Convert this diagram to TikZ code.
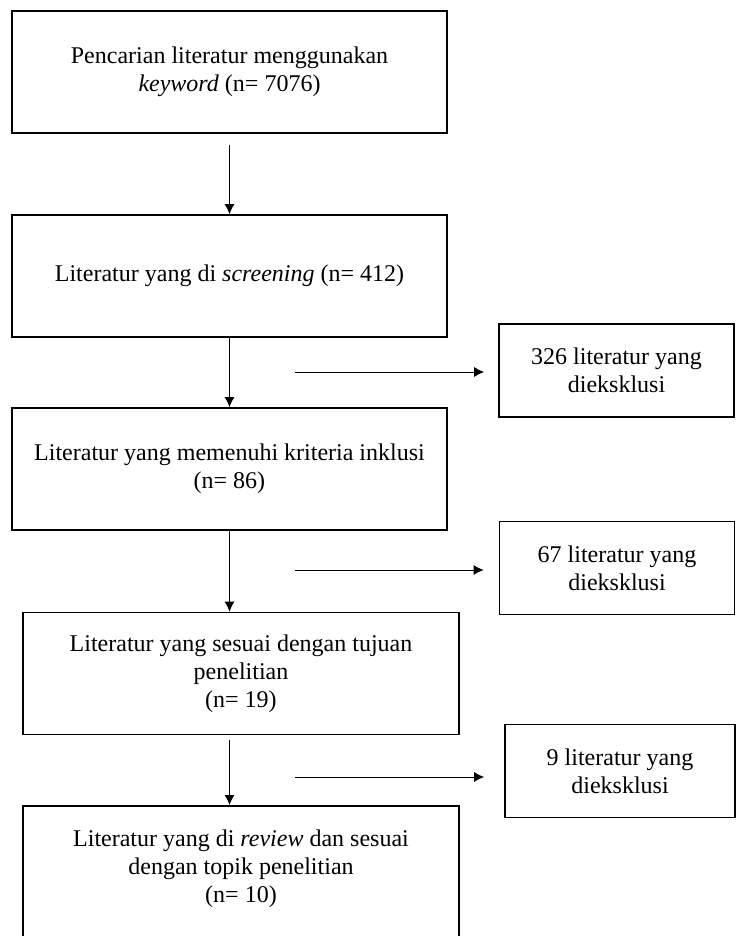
\documentclass[tikz,border=0pt]{standalone}
\usepackage{fontspec}
\setmainfont{Liberation Serif}
\usetikzlibrary{arrows.meta}
\tikzstyle{stage}=[draw=black,line width=0.8pt,minimum width=217.5pt,minimum height=61pt,align=center,font=\fontsize{12}{14}\selectfont]
\tikzstyle{excl}=[draw=black,line width=0.8pt,minimum width=117.5pt,minimum height=46.5pt,align=center,font=\fontsize{12}{14}\selectfont]

\begin{document}
\begin{tikzpicture}[x=0.5pt,y=-0.5pt,>={Latex[length=5pt,width=5pt]},line width=0.5pt]
			\useasboundingbox (0,0) rectangle (737,936);
			\clip (0,0) rectangle (737,936);
			
			\node (s1) at (229.5,72) [stage] {Pencarian literatur menggunakan\\\textit{keyword} (n= 7076)};
			\node (s2) at (229.5,276) [stage] {Literatur yang di \textit{screening} (n= 412)};
			\node (s3) at (229.5,469) [stage] {Literatur yang memenuhi kriteria inklusi\\(n= 86)};
			\node (s4) at (241,673.5) [stage,minimum width=218pt] {Literatur yang sesuai dengan tujuan\\penelitian\\(n= 19)};
			\node (s5) at (241,805) [stage,minimum width=218pt,minimum height=0pt,anchor=north,inner ysep=12pt,text depth=40pt] {Literatur yang di \textit{review} dan sesuai\\dengan topik penelitian\\(n= 10)};
			
			\node (e1) at (616.5,370.5) [excl] {326 literatur yang\\dieksklusi};
			\node (e2) at (617,568) [excl] {67 literatur yang\\dieksklusi};
			\node (e3) at (620,771) [excl,minimum width=115pt] {9 literatur yang\\dieksklusi};
			
			\coordinate (x1) at (295,372);
			\coordinate (x2) at (295,570);
			\coordinate (x3) at (295,777);
			
			\draw [->,shorten <=5.5pt] (s1) -- (s2);
			\draw [->] (s2) -- (s3);
			\draw [->] (s3.south) -- (s3.south |- s4.north);
			\draw [->,shorten <=2.5pt] (s3.south |- s4.south) -- (s3.south |- s5.north);
			
			\draw [->,shorten >=7pt] (x1) -- (x1 -| e1.west);
			\draw [->,shorten >=7.5pt] (x2) -- (x2 -| e2.west);
			\draw [->,shorten >=10pt] (x3) -- (x3 -| e3.west);
		\end{tikzpicture}
\end{document}
